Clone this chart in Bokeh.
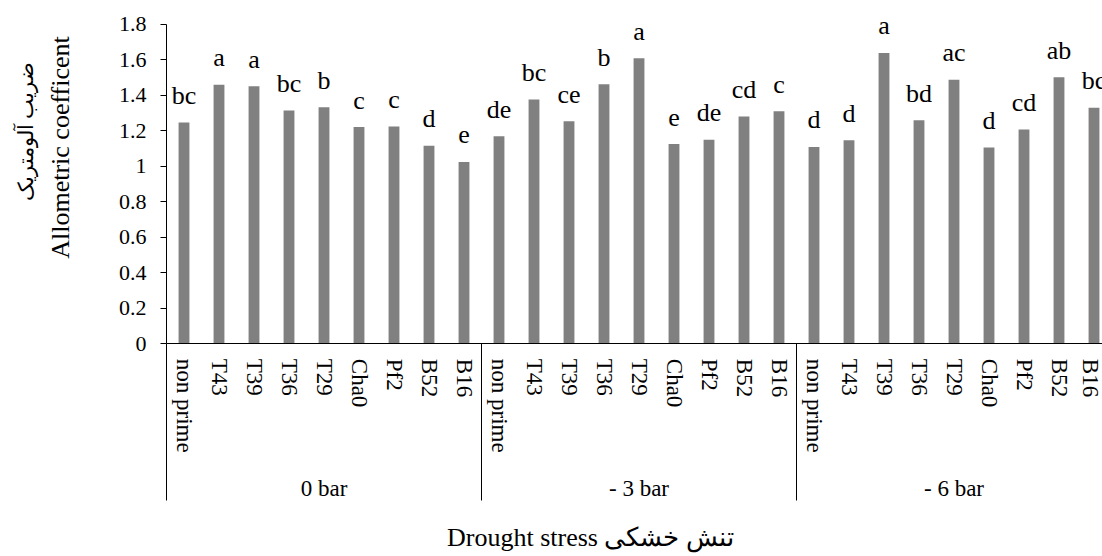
from bokeh.plotting import figure
from bokeh.models import (ColumnDataSource, FixedTicker, Label, Range1d, LinearAxis)
from bokeh.core.properties import value
from bokeh.embed import file_html
from bokeh.resources import INLINE

# ---- data ----
groups = ["0 bar", "- 3 bar", "- 6 bar"]
treatments = ["non prime", "T43", "T39", "T36", "T29", "Cha0", "Pf2", "B52", "B16"]
vals_0bar = [1.247, 1.461, 1.452, 1.315, 1.333, 1.222, 1.225, 1.117, 1.025]
vals_3bar = [1.170, 1.377, 1.254, 1.463, 1.610, 1.126, 1.151, 1.281, 1.311]
vals_6bar = [1.110, 1.147, 1.640, 1.260, 1.488, 1.106, 1.208, 1.503, 1.330]
letters_0bar = ["bc", "a", "a", "bc", "b", "c", "c", "d", "e"]
letters_3bar = ["de", "bc", "ce", "b", "a", "e", "de", "cd", "c"]
letters_6bar = ["d", "d", "a", "bd", "ac", "d", "cd", "ab", "bc"]
y_ticks = [0, 0.2, 0.4, 0.6, 0.8, 1, 1.2, 1.4, 1.6, 1.8]
y_tick_labels = ["0", "0.2", "0.4", "0.6", "0.8", "1", "1.2", "1.4", "1.6", "1.8"]
y_title_en = "Allometric coefficent"
y_title_fa = "ضریب آلومتریک"
x_title = "Drought stress تنش خشکی"

FONT = "Liberation Serif"
W, H = 1102, 556

values = vals_0bar + vals_3bar + vals_6bar
letters = letters_0bar + letters_3bar + letters_6bar
names = treatments * len(groups)
n_per = len(treatments)
n_all = len(values)
pos = [i + 0.5 for i in range(n_all)]          # slot centres on the category scale

src = ColumnDataSource(dict(x=pos, v=values, lab=letters))

# scale: one slot = 35 px, y: 177.4 px per unit; axes origin at (166, 343.3)
x_range = Range1d(-166 / 35, (W - 166) / 35)
y_range = Range1d(-(H - 343.3) / 177.4, 1.8 + 24 / 177.4)

p = figure(x_range=x_range, y_range=y_range, width=W, height=H,
           output_backend="svg", toolbar_location=None,
           x_axis_location=None, y_axis_location=None,
           min_border=0, min_border_left=0, min_border_right=0,
           min_border_top=0, min_border_bottom=0)
p.outline_line_color = None
p.xgrid.grid_line_color = None
p.ygrid.grid_line_color = None
p.background_fill_color = "white"
p.border_fill_color = "white"

p.vbar(x="x", top="v", width=0.31, source=src, fill_color="#808080", line_color=None)
p.text(x="x", y="v", text="lab", source=src, y_offset=-27, text_align="center",
       text_baseline="alphabetic", text_font=value(FONT), text_font_size="26px",
       text_color="black")

# group dividers below the axis
div_src = ColumnDataSource(dict(
    x0=[g * n_per for g in range(len(groups))],
    y0=[0] * len(groups),
    y1=[-(500 - 343.3) / 177.4] * len(groups)))
p.segment(x0="x0", y0="y0", x1="x0", y1="y1", source=div_src,
          line_color="black", line_width=1)

# y axis at the first slot edge
ya = LinearAxis(fixed_location=0, bounds=(0, 1.8), ticker=FixedTicker(ticks=y_ticks))
ya.major_label_overrides = {t: l for t, l in zip(y_ticks, y_tick_labels)}
ya.minor_tick_line_color = None
ya.major_tick_in = 0
ya.major_tick_out = 6
ya.major_label_standoff = 14
ya.major_label_text_font = FONT
ya.major_label_text_font_size = "22px"
ya.major_label_text_color = "black"
ya.axis_line_color = "black"
ya.major_tick_line_color = "black"
p.add_layout(ya, "left")

# category axis at y = 0
xa = LinearAxis(fixed_location=0, bounds=(0, n_all), ticker=FixedTicker(ticks=pos))
xa.major_label_overrides = {t: l for t, l in zip(pos, names)}
xa.minor_tick_line_color = None
xa.major_tick_line_color = None
xa.major_tick_in = 0
xa.major_tick_out = 0
xa.major_label_orientation = "vertical"
xa.major_label_standoff = 15
xa.major_label_text_font = FONT
xa.major_label_text_font_size = "23px"
xa.major_label_text_color = "black"
xa.axis_line_color = "black"
p.add_layout(xa, "below")

# group label axis
g_pos = [g * n_per + n_per / 2 for g in range(len(groups))]
ga = LinearAxis(fixed_location=0, ticker=FixedTicker(ticks=g_pos))
ga.major_label_overrides = {t: l for t, l in zip(g_pos, groups)}
ga.axis_line_color = None
ga.major_tick_line_color = None
ga.minor_tick_line_color = None
ga.major_tick_in = 0
ga.major_tick_out = 0
ga.major_label_standoff = 132
ga.major_label_orientation = "horizontal"
ga.major_label_text_font = FONT
ga.major_label_text_font_size = "23px"
ga.major_label_text_color = "black"
p.add_layout(ga, "below")

# axis titles
p.add_layout(Label(x=25, y=H - 131, x_units="screen", y_units="screen", text=y_title_fa,
                   angle=90, angle_units="deg", text_align="center", text_baseline="middle",
                   text_font=FONT, text_font_size="21px", text_color="black"))
p.add_layout(Label(x=60, y=H - 147, x_units="screen", y_units="screen", text=y_title_en,
                   angle=90, angle_units="deg", text_align="center", text_baseline="middle",
                   text_font=FONT, text_font_size="26px", text_color="black"))
p.add_layout(Label(x=590, y=H - 537, x_units="screen", y_units="screen", text=x_title,
                   text_align="center", text_baseline="alphabetic",
                   text_font=FONT, text_font_size="26px", text_color="black"))

open("out.html", "w").write(file_html(p, INLINE))
